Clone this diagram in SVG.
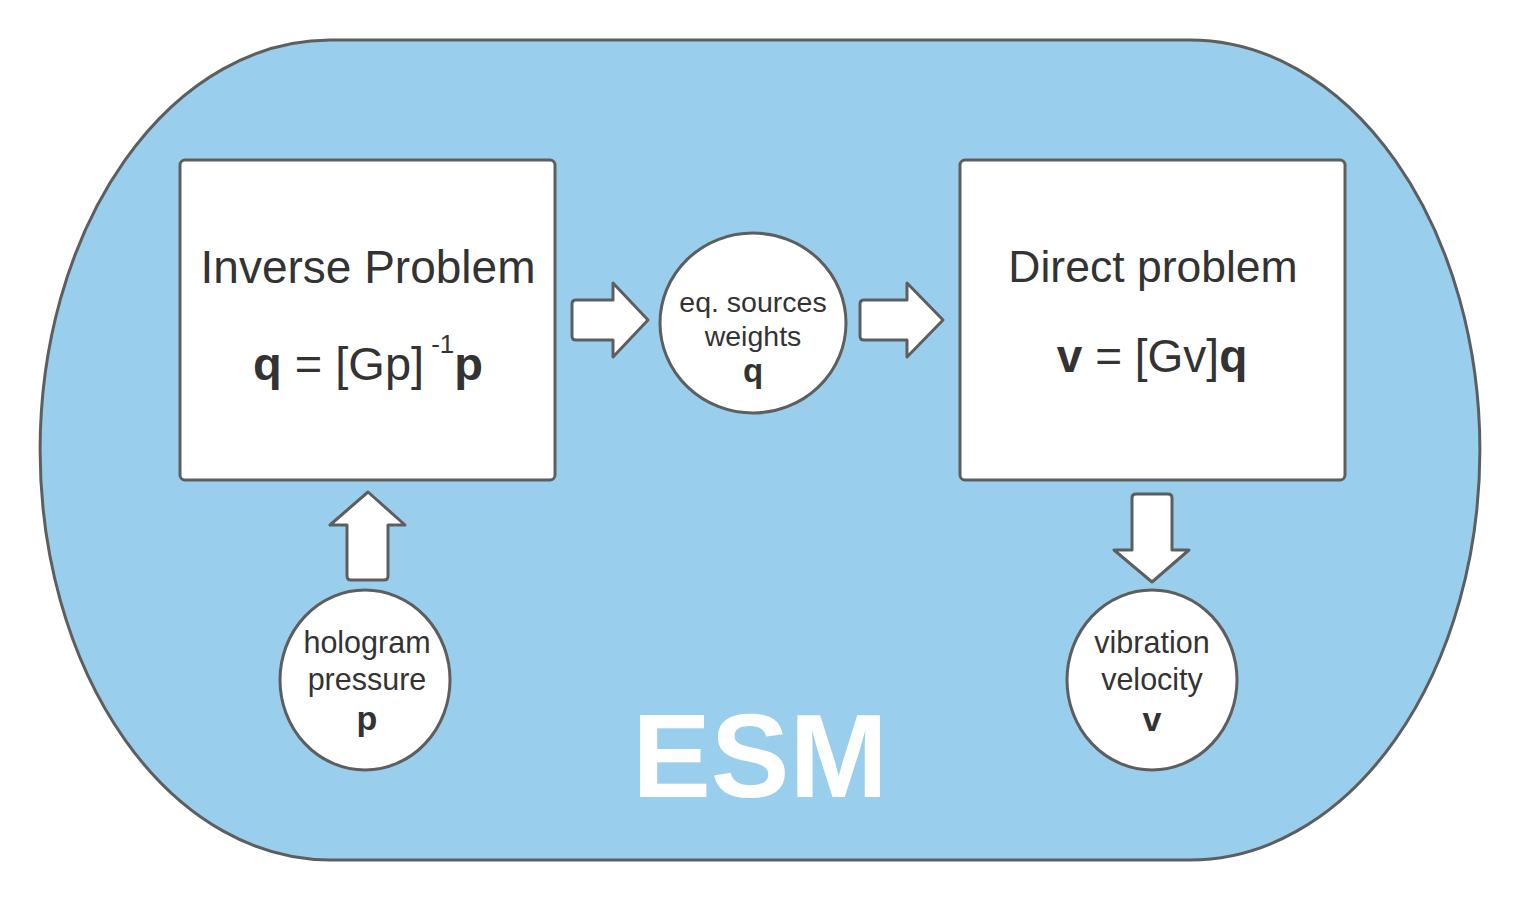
<svg xmlns="http://www.w3.org/2000/svg" width="1520" height="900" viewBox="0 0 1520 900">
<defs>
<style>
.shape{stroke:#5e5e5e;stroke-width:3;stroke-linejoin:round}
.white{fill:#ffffff}
.t{font-family:"Liberation Sans",Arial,sans-serif;fill:#333333;text-anchor:middle}
.b{font-weight:bold}
</style>
</defs>
<rect width="1520" height="900" fill="#ffffff"/>
<g id="esm">
<path class="shape" fill="#99cfec" d="M330,40 H1190 A290,410 0 0 1 1190,860 H330 A290,410 0 0 1 330,40 Z"/>
<text x="760" y="797" font-family="Liberation Sans,Arial,sans-serif" font-weight="bold" font-size="118" fill="#ffffff" text-anchor="middle">ESM</text>
</g>
<g id="inverse">
<rect class="shape white" x="180" y="160" width="375" height="320" rx="5"/>
<text class="t" x="368" y="283" font-size="46">Inverse Problem</text>
<text class="t" x="368" y="380" font-size="47"><tspan class="b">q</tspan> = [Gp]<tspan font-size="26" dx="7" dy="-27">-1</tspan><tspan class="b" dy="27">p</tspan></text>
</g>
<g id="direct">
<rect class="shape white" x="960" y="160" width="385" height="320" rx="5"/>
<text class="t" x="1153" y="282" font-size="44.5">Direct problem</text>
<text class="t" x="1152" y="372" font-size="46"><tspan class="b">v</tspan> = [Gv]<tspan class="b">q</tspan></text>
</g>
<g id="weights">
<ellipse class="shape white" cx="753" cy="323" rx="93" ry="90"/>
<text class="t" x="753" y="312" font-size="28.5">eq. sources</text>
<text class="t" x="753" y="346" font-size="28.5">weights</text>
<text class="t b" x="753" y="382" font-size="33">q</text>
</g>
<g id="hologram">
<ellipse class="shape white" cx="365" cy="680" rx="85" ry="90"/>
<text class="t" x="367" y="653" font-size="30.5">hologram</text>
<text class="t" x="367" y="690" font-size="30.5">pressure</text>
<text class="t b" x="367" y="730" font-size="34">p</text>
</g>
<g id="velocity">
<ellipse class="shape white" cx="1152" cy="680" rx="85" ry="90"/>
<text class="t" x="1152" y="653" font-size="30.5">vibration</text>
<text class="t" x="1152" y="690" font-size="30.5">velocity</text>
<text class="t b" x="1152" y="731" font-size="34">v</text>
</g>
<g id="connectors">
<path class="shape white" d="M576,300 H613 V283 L648,320 L613,357 V340 H576 Q572,340 572,336 V304 Q572,300 576,300 Z"/>
<path class="shape white" d="M864,300 H907 V283 L943,320 L907,357 V340 H864 Q860,340 860,336 V304 Q860,300 864,300 Z"/>
<path class="shape white" d="M351,580 H384 Q388,580 388,576 V525 H405 L368,492 L330,525 H347 V576 Q347,580 351,580 Z"/>
<path class="shape white" d="M1136,494 H1168 Q1172,494 1172,498 V550 H1189 L1152,582 L1114,550 H1132 V498 Q1132,494 1136,494 Z"/>
</g>
</svg>
